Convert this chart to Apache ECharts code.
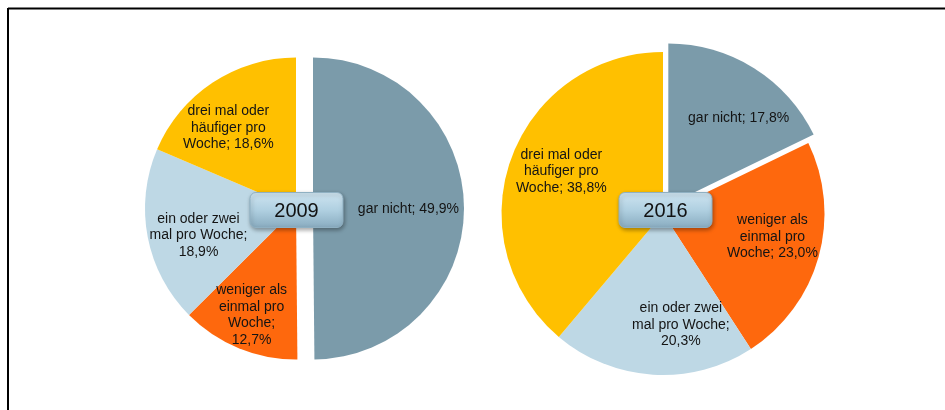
<!DOCTYPE html>
<html>
<head>
<meta charset="utf-8">
<script src="https://cdn.jsdelivr.net/npm/echarts@6/dist/echarts.min.js"></script>
<style>
  html, body { margin: 0; padding: 0; background: #fff; overflow: hidden; }
  #chart { width: 945px; height: 410px; }
</style>
</head>
<body>
<div id="chart"></div>
<script>
// Categories in clockwise order starting at 12 o'clock
const categories = [
  'gar nicht',
  'weniger als einmal pro Woche',
  'ein oder zwei mal pro Woche',
  'drei mal oder häufiger pro Woche'
];
const years = ['2009', '2016'];
const values2009 = [49.9, 12.7, 18.9, 18.6];
const values2016 = [17.8, 23.0, 20.3, 38.8];

// Layout / styling
const sliceColors = ['#7B9BAA', '#FE680D', '#BED8E5', '#FFC000'];
const pies = [
  {
    values: values2009, center: [296, 208.5], r: 151, offset: 17,
    wrap: [160, 76, 103, 100],
    nudge: [[-11, 1], [-4, 8], [7, 7], [-9, 8]]
  },
  {
    values: values2016, center: [663, 213.5], r: 161.5, offset: 10,
    wrap: [160, 100, 103, 100],
    nudge: [[10, 9], [0, -7], [25, -2], [5, -3]]
  }
];
const FONT = '"Liberation Sans", Arial, sans-serif';
const LABEL_SIZE = 14;

const fmt = v => v.toFixed(1).replace('.', ',') + '%';

// Greedy word wrap that only breaks at spaces
const measureCtx = document.createElement('canvas').getContext('2d');
measureCtx.font = LABEL_SIZE + 'px ' + FONT;
function wrapText(text, maxWidth) {
  const words = text.split(' ');
  const lines = [];
  let line = '';
  words.forEach(w => {
    const trial = line ? line + ' ' + w : w;
    if (line && measureCtx.measureText(trial).width > maxWidth) {
      lines.push(line);
      line = w;
    } else {
      line = trial;
    }
  });
  if (line) lines.push(line);
  return lines.join('\n');
}

const series = [];
const graphic = [];

pies.forEach((p, i) => {
  const data = categories.map((name, k) => ({
    name,
    value: p.values[k],
    selected: k === 0
  }));
  // Filled slices
  series.push({
    type: 'pie',
    center: p.center,
    radius: [0, p.r],
    startAngle: 90,
    clockwise: true,
    selectedMode: 'single',
    selectedOffset: p.offset,
    silent: true,
    animation: false,
    color: sliceColors,
    itemStyle: { borderWidth: 0 },
    label: { show: false },
    labelLine: { show: false },
    emphasis: { disabled: true },
    data
  });
  // Transparent ring carrying the slice labels further out from the centre
  series.push({
    type: 'pie',
    center: p.center,
    radius: [p.r * 0.37, p.r],
    startAngle: 90,
    clockwise: true,
    selectedMode: 'single',
    selectedOffset: p.offset,
    silent: true,
    animation: false,
    itemStyle: { color: 'rgba(0,0,0,0)', borderWidth: 0 },
    label: {
      show: true,
      position: 'inside',
      color: '#141414',
      fontFamily: FONT,
      fontSize: LABEL_SIZE,
      lineHeight: 16.5,
      align: 'center',
      formatter: d => wrapText(d.name + '; ' + fmt(d.value), p.wrap[d.dataIndex])
    },
    labelLayout: prm => ({ dx: p.nudge[prm.dataIndex][0], dy: p.nudge[prm.dataIndex][1] }),
    labelLine: { show: false },
    emphasis: { disabled: true },
    data: data.map(d => Object.assign({}, d))
  });

  // Year badge in the middle of each pie
  const bw = 93, bh = 35;
  const bx = p.center[0] + 0.5 - bw / 2 + (i === 0 ? 0 : 2);
  const by = 192.5;
  graphic.push({
    type: 'rect',
    z: 100,
    zlevel: 1,
    shape: { x: bx, y: by, width: bw, height: bh, r: 6 },
    style: {
      fill: new echarts.graphic.LinearGradient(0, 0, 0, 1, [
        { offset: 0, color: '#CFE5F1' },
        { offset: 0.5, color: '#B0D0E1' },
        { offset: 1, color: '#88ABBF' }
      ]),
      stroke: '#8FB0C2',
      lineWidth: 1,
      shadowColor: 'rgba(0,0,0,0.35)',
      shadowBlur: 4,
      shadowOffsetX: 1,
      shadowOffsetY: 2
    }
  });
  graphic.push({
    type: 'text',
    z: 101,
    zlevel: 1,
    x: bx + bw / 2,
    y: by + bh / 2 + 1,
    style: {
      text: years[i],
      fill: '#111',
      font: '20px ' + FONT,
      align: 'center',
      verticalAlign: 'middle'
    }
  });
});

// Frame lines (top and left)
graphic.push({
  type: 'line', z: 100,
  shape: { x1: 8, y1: 8.5, x2: 945, y2: 8.5 },
  style: { stroke: '#000', lineWidth: 2 }
});
graphic.push({
  type: 'line', z: 100,
  shape: { x1: 8, y1: 8, x2: 8, y2: 410 },
  style: { stroke: '#000', lineWidth: 2 }
});

const chart = echarts.init(document.getElementById('chart'), null, { renderer: 'canvas' });
chart.setOption({
  backgroundColor: '#fff',
  animation: false,
  series,
  graphic
});
</script>
</body>
</html>
